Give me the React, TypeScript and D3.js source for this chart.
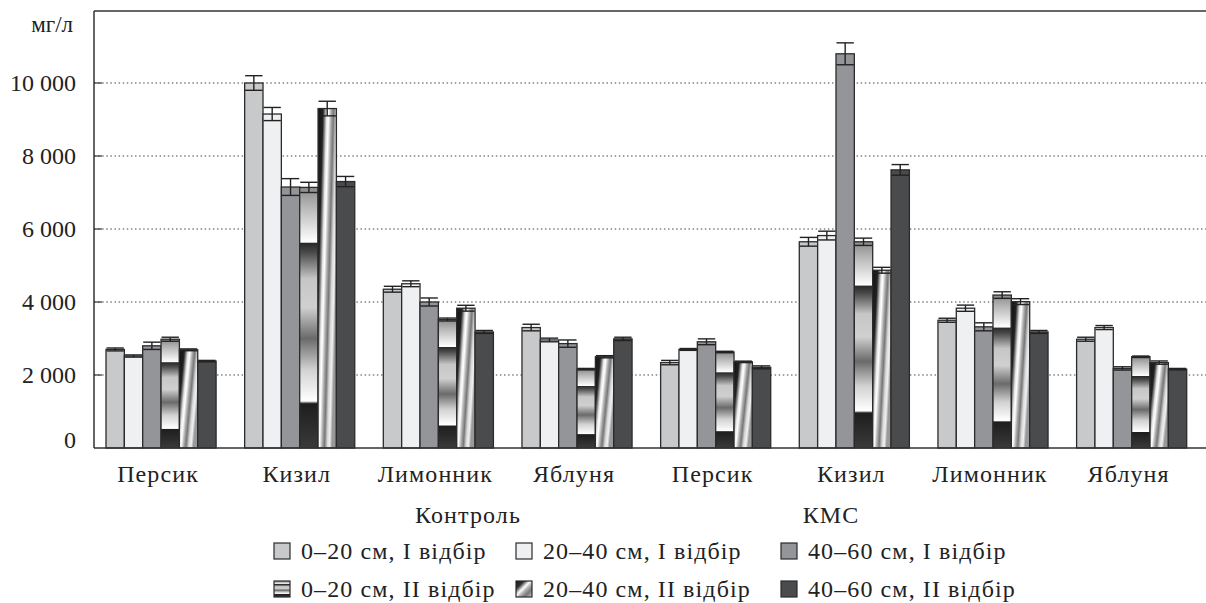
import React from "react";
import * as d3 from "d3";

const groups = ["Персик", "Кизил", "Лимонник", "Яблуня", "Персик", "Кизил", "Лимонник", "Яблуня"];
const treatments = ["Контроль", "КМС"];
const seriesNames = [
  "0–20 см, I відбір",
  "20–40 см, I відбір",
  "40–60 см, I відбір",
  "0–20 см, II відбір",
  "20–40 см, II відбір",
  "40–60 см, II відбір",
];
const s1 = [2700, 10000, 4350, 3300, 2340, 5650, 3500, 2980];
const s2 = [2520, 9150, 4500, 2960, 2700, 5820, 3830, 3300];
const s3 = [2800, 7150, 4000, 2860, 2910, 10800, 3320, 2180];
const s4 = [2980, 7140, 3520, 2160, 2630, 5650, 4190, 2500];
const s5 = [2690, 9300, 3830, 2500, 2360, 4870, 4010, 2340];
const s6 = [2380, 7300, 3180, 2990, 2210, 7620, 3180, 2160];
const e1 = [40, 200, 80, 90, 60, 120, 55, 55];
const e2 = [30, 180, 80, 50, 25, 120, 85, 55];
const e3 = [100, 230, 110, 100, 80, 300, 110, 45];
const e4 = [55, 140, 40, 20, 20, 100, 90, 20];
const e5 = [25, 200, 80, 30, 20, 80, 80, 45];
const e6 = [20, 140, 40, 45, 40, 145, 40, 20];
const yTicks = [0, 2000, 4000, 6000, 8000, 10000];
const yTickLabels = ["0", "2 000", "4 000", "6 000", "8 000", "10 000"];

const values = [s1, s2, s3, s4, s5, s6];
const errors = [e1, e2, e3, e4, e5, e6];
const fills = ["#c8c9cb", "#eff0f2", "#939598", "url(#gBand)", "url(#gDiag)", "#4a4b4d"];
const legendFills = ["#c8c9cb", "#eff0f2", "#939598", "url(#gBand)", "url(#gDiagL)", "#4a4b4d"];

const W = 1206;
const H = 603;
const FONT = "Liberation Serif, DejaVu Serif, Noto Serif, Times New Roman, serif";

export default function App() {
  const left = 94;
  const right = 1206;
  const y = d3.scaleLinear().domain([0, 12000]).range([448, 10]);
  const x0 = d3
    .scaleBand<number>()
    .domain(d3.range(groups.length))
    .range([106, 1186.7])
    .paddingInner(0.206)
    .paddingOuter(0);
  const x1 = d3.scaleBand<number>().domain(d3.range(6)).range([0, x0.bandwidth()]);
  const bw = x1.bandwidth();

  const legendX = [274, 516, 781];
  const legendY = [551, 589];
  const ts = { fontFamily: FONT } as React.CSSProperties;
  const tsw = { fontFamily: FONT, letterSpacing: "1.1px" } as React.CSSProperties;

  return (
    <svg
      width={W}
      height={H}
      style={{ position: "absolute", left: 0, top: 0, display: "block", background: "#fff", fontFamily: FONT }}
    >
      <defs>
        <linearGradient id="gBand" x1="0" y1="0" x2="0" y2="1">
          <stop offset="0" stopColor="#8a8a8a" />
          <stop offset="0.07" stopColor="#b4b4b4" />
          <stop offset="0.19" stopColor="#f4f4f4" />
          <stop offset="0.21" stopColor="#ffffff" />
          <stop offset="0.215" stopColor="#2a2a2a" />
          <stop offset="0.25" stopColor="#4a4a4a" />
          <stop offset="0.35" stopColor="#c6c6c6" />
          <stop offset="0.46" stopColor="#d0d0d0" />
          <stop offset="0.58" stopColor="#6a6a6a" />
          <stop offset="0.7" stopColor="#d2d2d2" />
          <stop offset="0.82" stopColor="#ffffff" />
          <stop offset="0.83" stopColor="#1e1e1e" />
          <stop offset="1" stopColor="#3a3a3a" />
        </linearGradient>
        <linearGradient id="gDiag" x1="0" y1="0" x2="1" y2="0.5">
          <stop offset="0" stopColor="#111" />
          <stop offset="0.22" stopColor="#222" />
          <stop offset="0.38" stopColor="#e6e6e6" />
          <stop offset="0.46" stopColor="#ffffff" />
          <stop offset="0.58" stopColor="#aaaaaa" />
          <stop offset="0.68" stopColor="#777777" />
          <stop offset="0.8" stopColor="#d8d8d8" />
          <stop offset="0.9" stopColor="#f0f0f0" />
          <stop offset="1" stopColor="#999999" />
        </linearGradient>
        <linearGradient id="gDiagL" x1="0" y1="0" x2="1" y2="1">
          <stop offset="0" stopColor="#111" />
          <stop offset="0.25" stopColor="#333" />
          <stop offset="0.45" stopColor="#ffffff" />
          <stop offset="0.6" stopColor="#aaaaaa" />
          <stop offset="0.75" stopColor="#777" />
          <stop offset="1" stopColor="#cccccc" />
        </linearGradient>
      </defs>

      {/* grid */}
      {yTicks.filter((t) => t > 0).map((t) => (
        <g key={"g" + t}>
          <line
            x1={left}
            x2={right}
            y1={y(t)}
            y2={y(t)}
            stroke="#444"
            strokeWidth={1}
            strokeDasharray="1.5 2.6"
          />
          <line x1={left} x2={left + 8} y1={y(t)} y2={y(t)} stroke="#333" strokeWidth={1.2} />
        </g>
      ))}

      {/* bars */}
      {groups.map((g, gi) => (
        <g key={"grp" + gi} transform={`translate(${x0(gi)},0)`}>
          {values.map((vals, si) => {
            const v = vals[gi];
            const bx = x1(si) as number;
            return (
              <rect
                key={"b" + si}
                x={bx}
                y={y(v)}
                width={bw}
                height={y(0) - y(v)}
                fill={fills[si]}
                stroke="#2b2b2b"
                strokeWidth={1.3}
              />
            );
          })}
          {values.map((vals, si) => {
            const v = vals[gi];
            const e = errors[si][gi];
            const bx = (x1(si) as number) + bw / 2;
            const cw = bw / 2 - 0.5;
            return (
              <g key={"e" + si} stroke="#222" strokeWidth={1.4}>
                <line x1={bx} x2={bx} y1={y(v + e)} y2={y(v - e)} />
                <line x1={bx - cw} x2={bx + cw} y1={y(v + e)} y2={y(v + e)} />
                <line x1={bx - cw} x2={bx + cw} y1={y(v - e)} y2={y(v - e)} />
              </g>
            );
          })}
        </g>
      ))}

      {/* frame */}
      <line x1={left} x2={right} y1={y(12000) + 1} y2={y(12000) + 1} stroke="#333" strokeWidth={1.5} />
      <line x1={left} x2={left} y1={y(12000) + 1} y2={y(0)} stroke="#333" strokeWidth={1.5} />
      <line x1={left} x2={right} y1={y(0)} y2={y(0)} stroke="#333" strokeWidth={1.5} />

      {/* y labels */}
      {yTicks.map((t, i) => (
        <text
          key={"yl" + t}
          x={76}
          y={y(t) - (t === 0 ? 8 : 0)}
          textAnchor="end"
          dominantBaseline="central"
          fontSize={24}
          fill="#222"
          style={ts}
        >
          {yTickLabels[i]}
        </text>
      ))}
      <text x={73} y={32} textAnchor="end" fontSize={23} fill="#222" style={ts}>
        мг/л
      </text>

      {/* x labels */}
      {groups.map((g, gi) => (
        <text
          key={"xl" + gi}
          x={(x0(gi) as number) + x0.bandwidth() / 2 - 3}
          y={482}
          textAnchor="middle"
          fontSize={24}
          fill="#222"
          style={tsw}
        >
          {g}
        </text>
      ))}
      <text x={468} y={523} textAnchor="middle" fontSize={24} fill="#222" style={tsw}>
        {treatments[0]}
      </text>
      <text x={831} y={523} textAnchor="middle" fontSize={24} fill="#222" style={tsw}>
        {treatments[1]}
      </text>

      {/* legend */}
      {seriesNames.map((name, i) => {
        const col = i % 3;
        const row = Math.floor(i / 3);
        const lx = legendX[col];
        const ly = legendY[row];
        return (
          <g key={"lg" + i}>
            <rect
              x={lx}
              y={ly - 8}
              width={16}
              height={16}
              fill={legendFills[i]}
              stroke="#2b2b2b"
              strokeWidth={1.2}
            />
            <text x={lx + 27} y={ly} dominantBaseline="central" fontSize={24} fill="#222" style={tsw}>
              {name}
            </text>
          </g>
        );
      })}
    </svg>
  );
}
